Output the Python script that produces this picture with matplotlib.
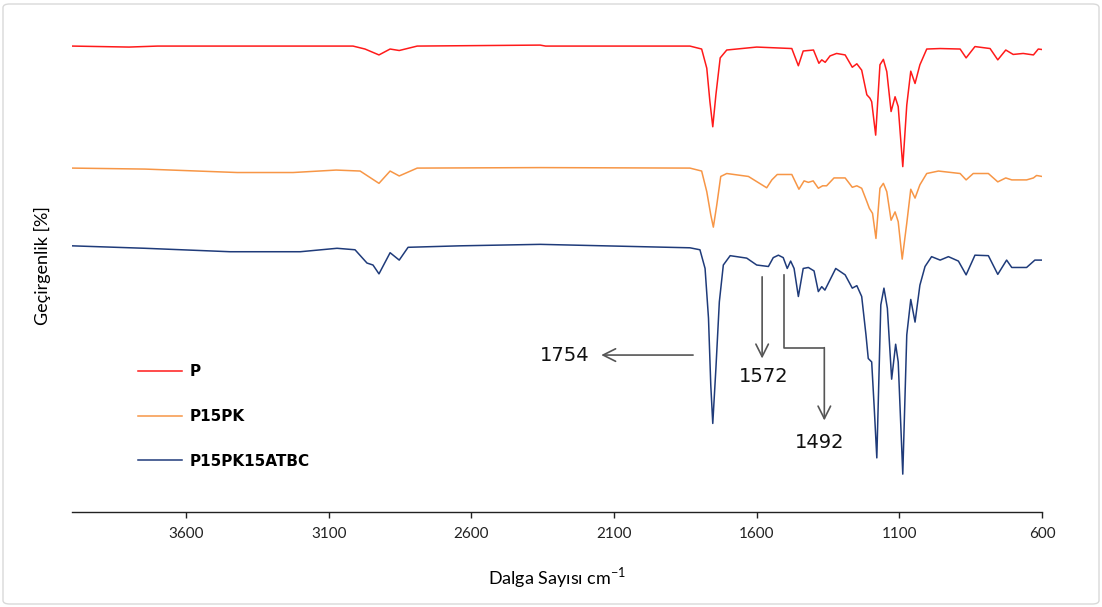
import numpy as np
import matplotlib.pyplot as plt
from matplotlib.patches import FancyBboxPatch

plt.rcParams["mathtext.fontset"] = "custom"
plt.rcParams["mathtext.rm"] = "Lato"

# ----------------------------------------------------------------------
# DATA (transmittance in arbitrary offset units)
# ----------------------------------------------------------------------
wn_p = [4000, 3800, 3700, 3015, 2973, 2924, 2885, 2853, 2790, 2359, 2340, 1834, 1793,
        1775, 1764, 1754, 1743, 1728, 1705, 1600, 1477, 1454, 1437, 1401, 1382, 1372,
        1360, 1343, 1320, 1290, 1265, 1249, 1232, 1214, 1203, 1197, 1183, 1168, 1156,
        1144, 1129, 1115, 1104, 1088, 1074, 1060, 1045, 1028, 1004, 957, 887, 866, 835,
        782, 755, 727, 701, 666, 630, 613, 600]
t_p = [94.7, 94.5, 94.7, 94.7, 94.1, 92.9, 94.1, 93.8, 94.7, 94.9, 94.7, 94.7, 94.1,
       90.2, 83.4, 78.3, 84.8, 92.3, 93.9, 94.5, 94.2, 90.7, 93.7, 93.9, 91.2, 91.9,
       91.4, 92.7, 93.2, 92.9, 90.4, 91.1, 89.8, 84.8, 84.1, 83.4, 76.6, 90.9, 92.0,
       89.5, 81.4, 84.4, 82.4, 70.2, 82.7, 89.6, 87.1, 90.9, 94.1, 94.2, 94.1, 92.3,
       94.6, 94.2, 91.9, 93.9, 93.0, 93.2, 92.9, 94.1, 94.0]

wn_pk = [4000, 3744, 3421, 3225, 3074, 2990, 2924, 2885, 2853, 2790, 2359, 1834, 1793,
         1775, 1761, 1752, 1740, 1726, 1705, 1629, 1565, 1547, 1528, 1477, 1452, 1434,
         1419, 1402, 1384, 1369, 1355, 1329, 1290, 1265, 1249, 1232, 1214, 1205, 1194,
         1182, 1168, 1156, 1144, 1129, 1115, 1104, 1090, 1074, 1060, 1045, 1028, 1004,
         963, 887, 866, 841, 788, 755, 727, 706, 654, 630, 619, 600]
t_pk = [69.9, 69.7, 69.0, 69.0, 69.5, 69.3, 66.8, 69.3, 68.3, 69.9, 70.0, 69.9, 69.3,
        65.1, 60.4, 57.9, 62.4, 68.2, 68.8, 68.2, 65.9, 67.5, 68.6, 68.6, 65.6, 67.3,
        67.0, 67.3, 65.8, 66.3, 66.3, 67.9, 67.9, 66.0, 66.3, 65.8, 63.1, 61.7, 60.7,
        55.6, 65.8, 66.8, 65.1, 59.3, 61.0, 59.0, 51.4, 58.7, 65.6, 63.8, 66.5, 68.8,
        69.3, 68.8, 67.5, 68.8, 68.8, 67.1, 67.9, 67.5, 67.5, 67.9, 68.4, 68.2]

wn_atbc = [4000, 3744, 3446, 3200, 3071, 3008, 2966, 2945, 2924, 2885, 2853, 2822, 2640,
           2359, 1834, 1799, 1781, 1769, 1761, 1754, 1743, 1731, 1717, 1693, 1635, 1600,
           1559, 1542, 1524, 1507, 1493, 1481, 1469, 1454, 1437, 1419, 1399, 1384, 1372,
           1361, 1323, 1290, 1265, 1249, 1232, 1217, 1209, 1197, 1188, 1179, 1165, 1154,
           1142, 1127, 1113, 1104, 1088, 1074, 1060, 1045, 1028, 1010, 987, 957, 928, 893,
           866, 835, 788, 755, 724, 706, 654, 625, 600]
t_atbc = [54.1, 53.6, 52.9, 52.9, 53.6, 53.3, 50.6, 50.2, 48.4, 52.7, 51.2, 53.8, 54.1,
          54.4, 53.7, 53.3, 49.5, 39.4, 25.8, 18.0, 29.2, 42.7, 50.2, 52.1, 51.6, 50.2,
          49.9, 51.7, 52.2, 51.7, 49.5, 51.0, 49.5, 43.8, 49.5, 49.7, 49.0, 44.8, 45.8,
          45.1, 49.5, 48.2, 45.5, 46.0, 43.8, 36.0, 31.2, 30.5, 21.1, 11.0, 42.1, 45.5,
          41.4, 27.0, 34.1, 30.5, 7.7, 36.0, 43.2, 38.6, 46.1, 49.9, 51.9, 51.2, 51.9, 51.0,
          48.2, 52.2, 52.1, 48.3, 51.2, 49.7, 49.7, 51.2, 51.2]

labels = ["P", "P15PK", "P15PK15ATBC"]
colors = ["#ff1a1a", "#f79646", "#1f3b7a"]
xticks = [3600, 3100, 2600, 2100, 1600, 1100, 600]

# annotated bands: label, (x,y) of arrow tail, (x,y) of arrow tip, text position
band_1754 = ("1754", (1823, 31.9), (2145, 31.9), (2272, 31.9))
band_1572 = ("1572", (1581, 47.8), (1581, 31.2), (1574, 27.6))
band_1492_path_x = [1503, 1503, 1363]
band_1492_path_y = [48.2, 33.4, 33.4]
band_1492 = ("1492", (1363, 33.4), (1363, 18.6), (1378, 14.2))

# ----------------------------------------------------------------------
fig = plt.figure(figsize=(11.02, 6.07), dpi=100)
ax = fig.add_axes([72 / 1102, 95 / 607, 970 / 1102, 492 / 607])

for wn, t, lab, c in zip([wn_p, wn_pk, wn_atbc], [t_p, t_pk, t_atbc], labels, colors):
    ax.plot(wn, t, color=c, lw=1.1, label=lab, solid_joinstyle="round")

ax.set_xlim(4000, 600)
ax.set_ylim(0, 100)
ax.set_xticks(xticks)
ax.set_xticklabels([str(v) for v in xticks], fontsize=11, family="Lato")
ax.set_yticks([])
for s in ["top", "right", "left"]:
    ax.spines[s].set_visible(False)
ax.spines["bottom"].set_color("#222222")
ax.spines["bottom"].set_linewidth(1.0)
ax.tick_params(axis="x", direction="out", length=4, width=1, color="#222222",
               pad=7, labelcolor="#222222")

ax.set_xlabel(r"Dalga Sayısı cm$^{-1}$", fontsize=13, family="Lato", labelpad=17)
ax.set_ylabel("Geçirgenlik [%]", fontsize=13, family="Lato", labelpad=15)

arrow_kw = dict(arrowstyle="->,head_length=0.9,head_width=0.45", color="#555555", lw=1.2,
                shrinkA=0, shrinkB=0)
for lab, tail, tip, txt in [band_1754, band_1572]:
    ax.annotate("", xy=tip, xytext=tail, arrowprops=arrow_kw)
ax.text(band_1754[3][0], band_1754[3][1], band_1754[0], fontsize=14, ha="center",
        va="center", color="#111111")
ax.text(band_1572[3][0], band_1572[3][1], band_1572[0], fontsize=14, ha="center",
        va="center", color="#111111")
ax.plot(band_1492_path_x, band_1492_path_y, color="#555555", lw=1.2)
ax.annotate("", xy=band_1492[2], xytext=band_1492[1], arrowprops=arrow_kw)
ax.text(band_1492[3][0], band_1492[3][1], band_1492[0], fontsize=14, ha="center",
        va="center", color="#111111")

leg = ax.legend(loc="center left", bbox_to_anchor=(0.068, 0.194), frameon=False,
                handlelength=2.9, handletextpad=0.45, labelspacing=1.95,
                borderpad=0, borderaxespad=0,
                prop={"family": "DejaVu Sans", "weight": "bold", "size": 11})

# chart-area border
fig.patches.append(FancyBboxPatch((3 / 1102, 3 / 607), 1096 / 1102, 600 / 607,
                                  boxstyle="round,pad=0,rounding_size=0.006",
                                  transform=fig.transFigure, facecolor="none",
                                  edgecolor="#d9d9d9", lw=1.0))

fig.savefig("out.png", dpi=100)
